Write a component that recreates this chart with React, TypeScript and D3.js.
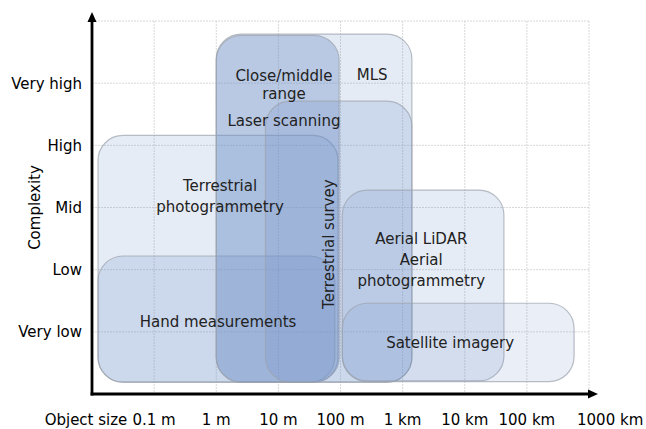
import React from "react";
import * as d3 from "d3";

// ---- data ----
const xTickValues = [0.1, 1, 10, 100, 1000, 10000, 100000, 1000000]; // metres
const xTickLabels = ["0.1 m", "1 m", "10 m", "100 m", "1 km", "10 km", "100 km", "1000 km"];
const yLevels = [1, 2, 3, 4, 5];
const yLabels = ["Very low", "Low", "Mid", "High", "Very high"];

const techNames = [
  "Terrestrial photogrammetry",
  "Hand measurements",
  "MLS",
  "Close/middle range Laser scanning",
  "Terrestrial survey",
  "Aerial LiDAR / Aerial photogrammetry",
  "Satellite imagery",
];
const sizeMin = [0.0125, 0.0125, 1.0, 1.0, 6.2, 107, 107]; // metres
const sizeMax = [91, 81, 1410, 95, 1410, 42700, 575000]; // metres
const complexityMin = [0.19, 0.19, 0.19, 0.19, 0.19, 0.21, 0.2];
const complexityMax = [4.16, 2.22, 5.79, 5.77, 4.71, 3.28, 1.46];
const fillOpacity = [0.17, 0.21, 0.18, 0.36, 0.2, 0.17, 0.15];

// label text per technology, anchored at (size in metres, complexity)
const labelLines = [
  ["Terrestrial", "photogrammetry"],
  ["Hand measurements"],
  ["MLS"],
  ["Close/middle", "range", "Laser scanning"],
  ["Terrestrial survey"],
  ["Aerial LiDAR", "Aerial", "photogrammetry"],
  ["Satellite imagery"],
];
const labelSize = [1.15, 1.07, 324, 12.3, 79, 1995, 5820]; // metres (centre)
const labelComplexity = [3.18, 1.16, 5.13, 4.75, 2.41, 2.15, 0.82];

const W = 646;
const H = 429;
const left = 92;
const right = 589;
const top = 21;
const bottom = 394;

export default function App() {
  const x = d3.scaleLog().domain([0.01, 1000000]).range([left, right]);
  const y = d3.scaleLinear().domain([0, 6]).range([bottom, top]);
  const font = "'DejaVu Sans', Verdana, sans-serif";
  const gridX = d3.range(1, 9).map((i) => Math.pow(10, i - 2));
  const gridY = d3.range(1, 7);
  const base = "rgb(108,142,198)";

  return (
    <svg
      width={W}
      height={H}
      style={{ position: "absolute", left: 0, top: 0, background: "#fff" }}
      fontFamily={font}
    >
      {/* grid */}
      <g stroke="#d8d8d8" strokeWidth={1} strokeDasharray="2,1">
        {gridX.map((v, i) => (
          <line key={"gx" + i} x1={x(v)} x2={x(v)} y1={y(6)} y2={y(0)} />
        ))}
        {gridY.map((v, i) => (
          <line key={"gy" + i} x1={left} x2={x(1000000)} y1={y(v)} y2={y(v)} />
        ))}
      </g>

      {/* boxes */}
      <g>
        {techNames.map((n, i) => {
          const x0 = x(sizeMin[i]);
          const x1 = x(sizeMax[i]);
          const y0 = y(complexityMax[i]);
          const y1 = y(complexityMin[i]);
          return (
            <rect
              key={n}
              x={x0}
              y={y0}
              width={x1 - x0}
              height={y1 - y0}
              rx={25}
              ry={25}
              fill={base}
              fillOpacity={fillOpacity[i]}
              stroke="rgb(155,162,172)"
              strokeOpacity={0.7}
              strokeWidth={1.2}
            />
          );
        })}
      </g>

      {/* labels */}
      <g fill="#222" fontSize={15} textAnchor="middle">
        {techNames.map((n, i) => {
          const cx = x(labelSize[i]);
          const cy = y(labelComplexity[i]);
          const lines = labelLines[i];
          if (n === "Terrestrial survey") {
            return (
              <text key={n} transform={`translate(${cx},${cy}) rotate(-90)`} x={0} y={0}>
                {lines[0]}
              </text>
            );
          }
          // line offsets (px) from the first baseline
          const offsets = n.startsWith("Close")
            ? [0, 18, 45]
            : lines.map((_, j) => j * 21);
          const span = offsets[offsets.length - 1];
          const y0 = cy - span / 2 + 5;
          return (
            <text key={n}>
              {lines.map((l, j) => (
                <tspan key={j} x={cx} y={y0 + offsets[j]}>
                  {l}
                </tspan>
              ))}
            </text>
          );
        })}
      </g>

      {/* axes */}
      <g stroke="#000" strokeWidth={2.8} fill="none">
        <line x1={left} x2={left} y1={bottom + 1.4} y2={top - 1} />
        <line x1={left - 1.4} x2={right + 2} y1={bottom} y2={bottom} />
      </g>
      <path d={`M${left},${top - 9} L${left - 4.5},${top + 1} L${left + 4.5},${top + 1} Z`} fill="#000" />
      <path d={`M${right + 9},${bottom} L${right - 1},${bottom - 4.5} L${right - 1},${bottom + 4.5} Z`} fill="#000" />

      {/* y tick labels */}
      <g fontSize={15} fill="#000" textAnchor="end">
        {yLevels.map((v, i) => (
          <text key={v} x={left - 10} y={y(v) + 5.5}>
            {yLabels[i]}
          </text>
        ))}
      </g>
      <text
        transform={`translate(${40},${y(3)}) rotate(-90)`}
        textAnchor="middle"
        fontSize={15}
        fill="#000"
      >
        Complexity
      </text>

      {/* x tick labels */}
      <g fontSize={15} fill="#000">
        <text x={86} y={425} textAnchor="middle">
          Object size
        </text>
        {xTickValues.map((v, i) => {
          const last = i === xTickValues.length - 1;
          return (
            <text
              key={v}
              x={last ? x(v) - 12 : x(v)}
              y={425}
              textAnchor={last ? "start" : "middle"}
            >
              {xTickLabels[i]}
            </text>
          );
        })}
      </g>
    </svg>
  );
}
